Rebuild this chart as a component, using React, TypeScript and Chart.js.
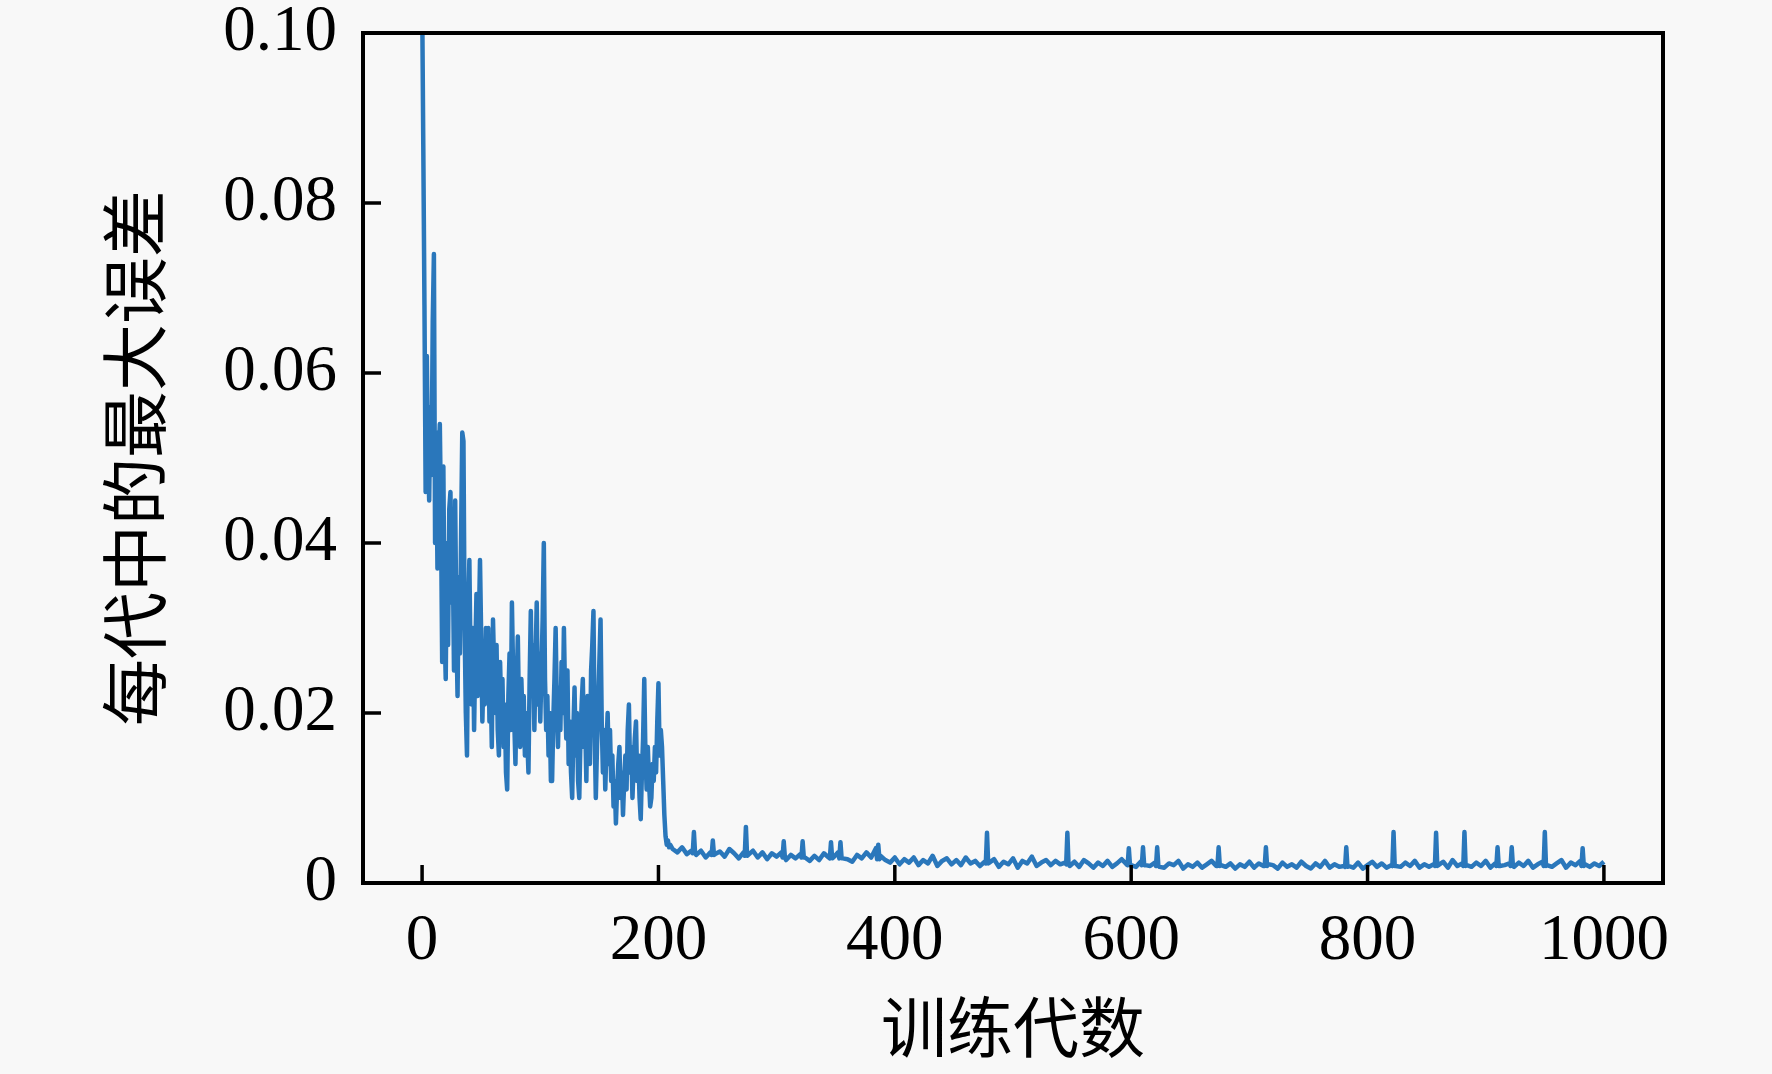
import React, { useEffect, useRef } from "react";
import { Chart, registerables } from "chart.js";

Chart.register(...registerables);

// Max error per generation, epochs 0..210 (one value per epoch)
const headValues = [
  0.105, 0.087, 0.068, 0.046, 0.062, 0.050, 0.045, 0.056, 0.048, 0.066,
  0.074, 0.040, 0.053, 0.037, 0.050, 0.054, 0.043, 0.026, 0.049, 0.030,
  0.024, 0.040, 0.028, 0.044, 0.046, 0.033, 0.038, 0.025, 0.045, 0.030,
  0.022, 0.036, 0.027, 0.041, 0.053, 0.052, 0.030, 0.020, 0.015, 0.032,
  0.038, 0.026, 0.021, 0.030, 0.018, 0.027, 0.034, 0.022, 0.030, 0.038,
  0.029, 0.019, 0.025, 0.021, 0.030, 0.023, 0.030, 0.019, 0.024, 0.016,
  0.031, 0.025, 0.020, 0.028, 0.018, 0.015, 0.026, 0.020, 0.024, 0.016,
  0.021, 0.013, 0.011, 0.022, 0.027, 0.018, 0.033, 0.025, 0.019, 0.014,
  0.023, 0.029, 0.020, 0.016, 0.024, 0.019, 0.022, 0.015, 0.020, 0.017,
  0.013, 0.024, 0.032, 0.022, 0.028, 0.018, 0.026, 0.033, 0.021, 0.027,
  0.019, 0.025, 0.031, 0.040, 0.024, 0.018, 0.022, 0.015, 0.020, 0.012,
  0.012, 0.019, 0.024, 0.030, 0.021, 0.016, 0.023, 0.018, 0.026, 0.020,
  0.030, 0.022, 0.017, 0.025, 0.014, 0.019, 0.013, 0.010, 0.018, 0.023,
  0.015, 0.020, 0.012, 0.010, 0.017, 0.021, 0.024, 0.016, 0.019, 0.012,
  0.022, 0.017, 0.014, 0.025, 0.028, 0.032, 0.018, 0.010, 0.016, 0.021,
  0.026, 0.031, 0.019, 0.013, 0.018, 0.011, 0.016, 0.020, 0.014, 0.018,
  0.012, 0.015, 0.009, 0.012, 0.007, 0.011, 0.014, 0.016, 0.010, 0.013,
  0.008, 0.012, 0.015, 0.011, 0.018, 0.021, 0.013, 0.016, 0.010, 0.014,
  0.017, 0.019, 0.012, 0.015, 0.010, 0.0075, 0.013, 0.017, 0.024, 0.015,
  0.011, 0.016, 0.012, 0.009, 0.010, 0.014, 0.012, 0.016, 0.013, 0.019,
  0.0235, 0.015, 0.018, 0.016, 0.012, 0.008, 0.0055, 0.0045, 0.005, 0.0042,
  0.0045,
];

// Epochs 212..1000, every 4th epoch
const tailStart = 212;
const tailStep = 4;
const tailValues = [
  0.0040, 0.0036, 0.0042, 0.0034, 0.0038, 0.0033, 0.0038, 0.0030, 0.0036, 0.0034,
  0.0037, 0.0031, 0.0040, 0.0035, 0.0029, 0.0036, 0.0033, 0.0038, 0.0030, 0.0036,
  0.0028, 0.0035, 0.0031, 0.0036, 0.0027, 0.0033, 0.0029, 0.0034, 0.0030, 0.0026,
  0.0032, 0.0027, 0.0035, 0.0030, 0.0030, 0.0036, 0.0029, 0.0028, 0.0025, 0.0033,
  0.0029, 0.0036, 0.0030, 0.0041, 0.0032, 0.0027, 0.0024, 0.0030, 0.0022, 0.0028,
  0.0024, 0.0030, 0.0021, 0.0027, 0.0023, 0.0032, 0.0020, 0.0026, 0.0029, 0.0022,
  0.0027, 0.0021, 0.0030, 0.0023, 0.0026, 0.0020, 0.0025, 0.0024, 0.0028, 0.0019,
  0.0025, 0.0022, 0.0029, 0.0018, 0.0026, 0.0023, 0.0031, 0.0020, 0.0024, 0.0027,
  0.0021, 0.0026, 0.0022, 0.0024, 0.0020, 0.0025, 0.0019, 0.0027, 0.0023, 0.0018,
  0.0024, 0.0020, 0.0026, 0.0019, 0.0023, 0.0028, 0.0022, 0.0021, 0.0019, 0.0025,
  0.0021, 0.0020, 0.0024, 0.0019, 0.0018, 0.0023, 0.0021, 0.0026, 0.0017, 0.0022,
  0.0019, 0.0024, 0.0018, 0.0022, 0.0026, 0.0020, 0.0021, 0.0019, 0.0023, 0.0017,
  0.0022, 0.0019, 0.0025, 0.0018, 0.0023, 0.0020, 0.0022, 0.0021, 0.0017, 0.0024,
  0.0019, 0.0022, 0.0018, 0.0025, 0.0020, 0.0017, 0.0023, 0.0019, 0.0026, 0.0018,
  0.0022, 0.0019, 0.0020, 0.0020, 0.0018, 0.0024, 0.0017, 0.0021, 0.0025, 0.0019,
  0.0023, 0.0018, 0.0021, 0.0020, 0.0019, 0.0024, 0.0020, 0.0026, 0.0018, 0.0022,
  0.0019, 0.0022, 0.0021, 0.0025, 0.0018, 0.0027, 0.0020, 0.0023, 0.0021, 0.0019,
  0.0024, 0.0020, 0.0026, 0.0018, 0.0023, 0.0020, 0.0021, 0.0023, 0.0019, 0.0024,
  0.0020, 0.0026, 0.0018, 0.0022, 0.0025, 0.0021, 0.0019, 0.0023, 0.0027, 0.0018,
  0.0024, 0.0021, 0.0026, 0.0022, 0.0019, 0.0023, 0.0020, 0.0025,
];

// Isolated narrow spikes in the converged part (peak epoch, peak value, level just beside it)
const spikeEpochs = [230, 246, 274, 306, 322, 346, 354, 386, 478, 546, 598, 610, 622, 674, 714, 782, 822, 858, 882, 910, 922, 950, 982];
const spikeValues = [0.0060, 0.0050, 0.0066, 0.0049, 0.0049, 0.0048, 0.0048, 0.0045, 0.0059, 0.0059, 0.0041, 0.0042, 0.0042, 0.0042, 0.0042, 0.0042, 0.0060, 0.0059, 0.0060, 0.0042, 0.0042, 0.0060, 0.0041];
const spikeBase = [0.0035, 0.0033, 0.0032, 0.0030, 0.0030, 0.0029, 0.0029, 0.0028, 0.0023, 0.0022, 0.0021, 0.0021, 0.0020, 0.0020, 0.0020, 0.0019, 0.0020, 0.0020, 0.0020, 0.0020, 0.0020, 0.0020, 0.0020];

const xTickValues = [0, 200, 400, 600, 800, 1000];
const yTickValues = [0, 0.02, 0.04, 0.06, 0.08, 0.1];
const yTickLabels = ["0", "0.02", "0.04", "0.06", "0.08", "0.10"];
const xTitle = "训练代数";
const yTitle = "每代中的最大误差";

const W = 1772;
const H = 1074;
const BG = "#f8f8f8";
const LINE = "#2a77bb";
const SERIF = "'Liberation Serif', 'Times New Roman', serif";
const CJK = "'Noto Sans CJK SC', 'Noto Sans CJK JP', sans-serif";

function buildPoints() {
  const pts: { x: number; y: number }[] = [];
  headValues.forEach((v, i) => pts.push({ x: i, y: v }));
  tailValues.forEach((v, i) => pts.push({ x: tailStart + tailStep * i, y: v }));
  spikeEpochs.forEach((e, i) => {
    pts.push({ x: e - 1, y: spikeBase[i] });
    pts.push({ x: e, y: spikeValues[i] });
    pts.push({ x: e + 1, y: spikeBase[i] });
  });
  pts.sort((a, b) => a.x - b.x);
  return pts;
}

const framePlugin = {
  id: "frameTicks",
  beforeDraw(chart: any) {
    const ctx = chart.ctx;
    ctx.save();
    ctx.fillStyle = BG;
    ctx.fillRect(0, 0, chart.width, chart.height);
    ctx.restore();
  },
  afterDraw(chart: any) {
    const { ctx, chartArea } = chart;
    const { left, right, top, bottom } = chartArea;
    const xs = chart.scales.x;
    const ys = chart.scales.y;
    ctx.save();
    ctx.strokeStyle = "#000";
    ctx.lineWidth = 3.5;
    ctx.beginPath();
    xs.ticks.forEach((t: any) => {
      const px = xs.getPixelForValue(t.value);
      ctx.moveTo(px, bottom);
      ctx.lineTo(px, bottom - 18);
    });
    ys.ticks.forEach((t: any) => {
      const py = ys.getPixelForValue(t.value);
      ctx.moveTo(left, py);
      ctx.lineTo(left + 18, py);
    });
    ctx.stroke();
    ctx.lineWidth = 4;
    ctx.strokeRect(left, top, right - left, bottom - top);
    ctx.restore();
  },
};

export default function App() {
  const ref = useRef<HTMLCanvasElement | null>(null);
  useEffect(() => {
    if (!ref.current) return;
    const chart = new Chart(ref.current, {
      type: "line",
      data: {
        datasets: [
          {
            data: buildPoints(),
            borderColor: LINE,
            borderWidth: 4.5,
            borderJoinStyle: "round",
            pointRadius: 0,
            tension: 0,
            fill: false,
          },
        ],
      },
      options: {
        animation: false,
        responsive: false,
        devicePixelRatio: 1,
        parsing: false as any,
        layout: { padding: { top: 33, right: 109, bottom: 0, left: 0 } },
        plugins: { legend: { display: false }, tooltip: { enabled: false } },
        scales: {
          x: {
            type: "linear",
            min: -50,
            max: 1050,
            afterBuildTicks: (s: any) => {
              s.ticks = xTickValues.map((v) => ({ value: v }));
            },
            afterFit: (s: any) => {
              s.height = 191;
              s.paddingLeft = 0;
              s.paddingRight = 0;
            },
            grid: { display: false },
            border: { display: false },
            ticks: {
              color: "#000",
              font: { family: SERIF, size: 65 },
              padding: 12,
              maxRotation: 0,
              autoSkip: false,
              callback: (v: any) => String(v),
            },
            title: {
              display: true,
              text: xTitle,
              color: "#000",
              font: { family: CJK, size: 66 },
              padding: { top: 0, bottom: 7 },
            },
          },
          y: {
            type: "linear",
            min: 0,
            max: 0.1,
            afterBuildTicks: (s: any) => {
              s.ticks = yTickValues.map((v) => ({ value: v }));
            },
            afterFit: (s: any) => {
              s.width = 363;
              s.paddingTop = 0;
              s.paddingBottom = 0;
            },
            grid: { display: false },
            border: { display: false },
            ticks: {
              color: "#000",
              font: { family: SERIF, size: 65 },
              padding: 18,
              autoSkip: false,
              callback: (_v: any, i: number) => yTickLabels[i],
            },
            title: {
              display: true,
              text: yTitle,
              color: "#000",
              font: { family: CJK, size: 67 },
              padding: { top: 94, bottom: 0 },
            },
          },
        },
      },
      plugins: [framePlugin],
    });
    return () => chart.destroy();
  }, []);
  return (
    <div style={{ position: "absolute", left: 0, top: 0, width: W, height: H, background: BG }}>
      <canvas ref={ref} width={W} height={H} style={{ width: W, height: H, display: "block" }} />
    </div>
  );
}
